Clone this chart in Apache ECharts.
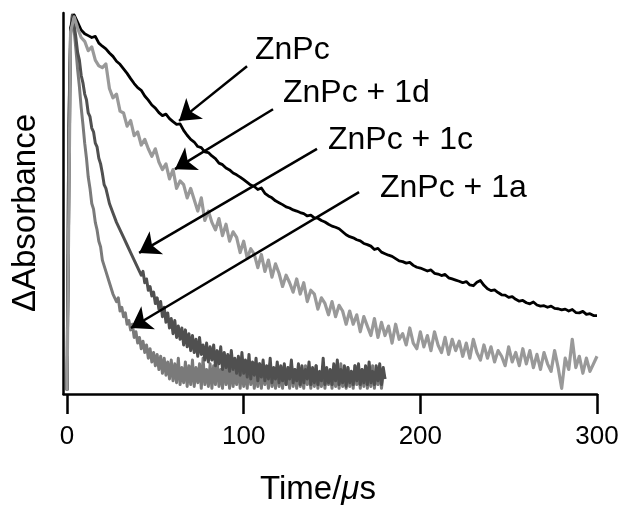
<!DOCTYPE html>
<html>
<head>
<meta charset="utf-8">
<script src="https://cdn.jsdelivr.net/npm/echarts@6/dist/echarts.min.js"></script>
<style>
  html, body { margin: 0; padding: 0; background: #fff; }
  #chart { width: 625px; height: 511px; }
</style>
</head>
<body>
<div id="chart"></div>
<script>
// sampling steps of the traces, in microseconds
const slowStep = 2
const fastStep = 1

const xTicks = [0, 100, 200, 300]

// ZnPc alone (black), 0..300 us, every 2 us
const znpc = [
  0, 96, 99.5, 97.5, 95.5, 94.5, 94, 93.5, 93.8, 92,
  91.2, 90.5, 89.4, 88.5, 87.2, 86.4, 85.2, 84, 82.6, 81.3,
  80.2, 79.5, 78, 76.9, 75.6, 74.8, 73.6, 72.8, 73.2, 72,
  71.2, 70.5, 70.6, 68.9, 67.6, 66.5, 65.8, 64.6, 64.3, 63.2,
  63, 62.1, 61.4, 60.2, 59.8, 58.9, 58.4, 57.6, 57.1, 56.5,
  55.8, 55.1, 54.4, 54, 53.2, 53.6, 52.2, 51.5, 51, 50.2,
  49.7, 49.2, 48.6, 48.3, 47.8, 47.5, 47.1, 46.8, 46.2, 46.4,
  45.7, 45.6, 45, 44.6, 44, 43.5, 43.2, 42.8, 42, 41.2,
  40.7, 40.4, 39.9, 39.6, 38.9, 38.6, 38.2, 37.3, 37.6, 36.6,
  36.2, 35.8, 35.5, 34.9, 34.3, 34.1, 33.7, 33.9, 33.1, 32.6,
  32.4, 32, 31.6, 31.9, 31, 30.8, 30.4, 30.7, 29.8, 29.5,
  29.2, 28.9, 28.5, 28.8, 27.9, 27.7, 28.6, 29.1, 27.8, 26.9,
  26.4, 26.6, 25.9, 25.3, 25.2, 24.6, 24.8, 24.1, 23.6, 23.8,
  23.2, 22.9, 23.4, 22.6, 22.3, 22.4, 22, 22.3, 21.7, 21.6,
  21.3, 21.5, 21, 21.4, 20.6, 20.5, 20.9, 20.1, 20.3, 19.8,
  19.8
]

// ZnPc + 1d (light grey), 0..300 us, every 2 us
const znpc1d = [
  0, 95, 99, 96, 93.5, 92.5, 90, 91, 87.5, 86,
  85.5, 86.5, 80, 77.5, 78.5, 74, 73.5, 70, 71.5, 67.5,
  68.5, 65, 66.5, 64, 62, 64, 60.5, 58.5, 60, 56,
  58.5, 53.5, 55.5, 54.5, 51, 53.5, 50.5, 47.5, 51, 45,
  47.5, 44.5, 42.5, 45.5, 41, 44, 39.5, 42, 40.5, 36.5,
  39.5, 35, 37.5, 36, 32.5, 36, 31.5, 34.5, 30, 33.5,
  31, 27.5, 30.5, 28.5, 26, 29.5, 25.5, 28.5, 23.5, 26.5,
  25.5, 21.5, 24.5, 23, 20, 23.5, 19.5, 22.5, 21, 17.5,
  21, 17.5, 20, 15.5, 19.5, 17, 14.5, 19, 14, 18,
  14.5, 17, 12.5, 17.5, 13.5, 15, 12, 16.5, 12.5, 11,
  15.5, 11.5, 14.5, 10.5, 15.5, 12, 10, 14, 9.5, 13.5,
  10.5, 13, 9, 12.5, 8.5, 13.5, 10, 8, 12, 8.5,
  11.5, 7.5, 10.5, 9, 6.5, 11.5, 7.5, 10, 6.5, 11,
  7, 10.5, 6, 9.5, 5.5, 10, 7, 5, 10.5, 6,
  0.5, 8.5, 5.5, 13.5, 6, 9, 4.5, 8.5, 5, 7,
  9
]

// ZnPc + 1c (dark grey), 0..180 us, every 1 us
const znpc1c = [
  0, 70, 95, 99.5, 97, 93.5, 89.5, 87.5, 83.5, 81.5,
  78.5, 77, 73.5, 72.5, 69.5, 68.5, 65.5, 64.5, 61.5, 60,
  57.5, 54.5, 53.5, 51.5, 49.5, 49, 47, 46.5, 44.5, 44,
  42.5, 42.5, 40.5, 40.5, 38.5, 38, 36.5, 37, 34.5, 35,
  32.5, 33, 30.5, 31.5, 28.5, 29.5, 26.5, 27.5, 25, 26,
  23, 24.5, 21.5, 23.5, 19.5, 22, 18, 20.5, 16.5, 19,
  15, 18.5, 14, 17, 13.5, 16.5, 12, 16, 11.5, 15,
  10.5, 14.5, 10, 13.5, 9, 14, 9.5, 12, 8, 12.5,
  7.5, 11.5, 8, 12, 6.5, 10.5, 7, 11.5, 5.5, 10,
  6, 9.5, 5, 10.5, 5.5, 8.5, 4.5, 9, 4, 10,
  4.5, 8, 3.5, 9.5, 3, 7.5, 4, 8.5, 2.5, 7,
  3.5, 8, 2.5, 6.5, 3, 8.5, 2, 6, 3, 7.5,
  2, 6.5, 2.5, 7, 1.5, 6, 3, 8, 2, 5.5,
  2.5, 7, 1.5, 6.5, 2, 5.5, 3, 7.5, 1.5, 6,
  2, 6.5, 1.5, 5, 2.5, 8.5, 1.5, 6, 2, 5.5,
  1.5, 7, 2.5, 8, 1.5, 5.5, 2, 6.5, 1, 6,
  2, 5, 1.5, 6.5, 2.5, 7, 1.5, 5.5, 2, 6.5,
  1.5, 7.5, 2, 5, 1.5, 6.5, 2.5, 7, 1.5, 6,
  3
]

// ZnPc + 1a (mid grey), 0..180 us, every 1 us
const znpc1a = [
  0, 68, 94, 99, 95.5, 90.5, 85, 80.5, 75, 70.5,
  65.5, 61.5, 56.5, 53.5, 49.5, 48, 44.5, 42.5, 39.5, 38,
  34.5, 34, 31.5, 31, 28.5, 28.5, 25.5, 26, 23.5, 24.5,
  21, 22, 19.5, 20.5, 17.5, 18.5, 16, 17.5, 14, 15.5,
  12.5, 14, 11, 13, 10, 12, 8.5, 11, 7.5, 10,
  6.5, 9.5, 5.5, 9, 4.5, 8.5, 4, 7.5, 3, 8,
  2.5, 7, 2, 8.5, 1.5, 6, 2, 7.5, 1, 6.5,
  1.5, 8, 1, 6, 2, 7, 0.5, 8.5, 1.5, 5.5,
  1, 7, 0.5, 6.5, 1.5, 8, 1, 5.5, 0.5, 7.5,
  1.5, 6, 0.5, 7, 1, 5, 1.5, 8, 0.5, 6.5,
  1, 5.5, 0.5, 7.5, 1.5, 6, 0.5, 5, 1, 7,
  0.5, 6, 1.5, 5.5, 0.5, 7, 1, 4.5, 0.5, 6.5,
  1, 5, 0.5, 6.5, 1.5, 4.5, 0.5, 7, 1, 5.5,
  0.5, 6, 1, 4.5, 0.5, 6.5, 1.5, 5, 0.5, 5.5,
  1, 6.5, 0.5, 4.5, 1, 6, 0.5, 5.5, 1.5, 4.5,
  0.5, 6, 1, 5, 0.5, 7, 1, 4.5, 0.5, 6,
  1, 5, 0.5, 6.5, 1.5, 4.5, 0.5, 5.5, 1, 6,
  0.5, 4.5, 1, 6.5, 0.5, 5, 1.5, 5.5, 0.5, 4.5,
  3
]

// arrows: label, tail [t, dA], head [t, dA]
const arrowLabels = ['ZnPc', 'ZnPc + 1d', 'ZnPc + 1c', 'ZnPc + 1a']
const arrowFrom = [[101.9, 85.9], [116.6, 74.5], [141.5, 64.0], [165.3, 52.5]]
const arrowTo = [[63.4, 71.4], [61.1, 58.6], [40.8, 36.4], [36.2, 16.5]]

const FONT = '"Liberation Sans", Arial, Helvetica, sans-serif'

const toPairs = (values, step) => values.map((v, i) => [i * step, v])

const lineSeries = (name, values, step, color, width, extra) => Object.assign({
  name,
  type: 'line',
  data: toPairs(values, step),
  showSymbol: false,
  symbol: 'none',
  silent: true,
  lineStyle: { color, width, join: 'round' },
  animation: false
}, extra || {})

const chart = echarts.init(document.getElementById('chart'), null, { renderer: 'canvas' })

const labelText = (text, x, y) => ({
  type: 'text', x, y,
  style: { text, font: '32px ' + FONT, fill: '#000', align: 'left', verticalAlign: 'middle' }
})

const option = {
  backgroundColor: '#fff',
  animation: false,
  grid: { left: 63.5, right: 28, top: 13, bottom: 117, containLabel: false, outerBoundsMode: 'none' },
  xAxis: {
    type: 'value',
    min: -2,
    max: 300,
    axisLine: { onZero: false, lineStyle: { color: '#000', width: 2.5 } },
    axisTick: { show: true, customValues: xTicks, length: 20, lineStyle: { color: '#000', width: 2.5 } },
    axisLabel: { customValues: xTicks, color: '#000', fontSize: 26, fontFamily: FONT, margin: 30 },
    splitLine: { show: false }
  },
  yAxis: {
    type: 'value',
    min: -1,
    max: 100,
    axisLine: { show: true, onZero: false, lineStyle: { color: '#000', width: 2.5 } },
    axisTick: { show: false },
    axisLabel: { show: false },
    splitLine: { show: false }
  },
  series: [
    lineSeries('ZnPc + 1a', znpc1a, fastStep, '#7a7a7a', 3),
    lineSeries('ZnPc + 1c', znpc1c, fastStep, '#505050', 3),
    lineSeries('ZnPc', znpc, slowStep, '#000000', 2.8, {
      markLine: {
        silent: true,
        animation: false,
        symbol: ['none', 'arrow'],
        symbolSize: 20,
        label: { show: false },
        lineStyle: { color: '#000', width: 2.5, type: 'solid' },
        data: arrowFrom.map((p, i) => [{ coord: p }, { coord: arrowTo[i] }])
      }
    }),
    lineSeries('ZnPc + 1d', znpc1d, slowStep, '#999999', 3.2)
  ],
  graphic: [
    labelText(arrowLabels[0], 255, 50),
    labelText(arrowLabels[1], 283, 93),
    labelText(arrowLabels[2], 328, 140),
    labelText(arrowLabels[3], 380, 188),
    {
      type: 'text', x: 318, y: 490,
      style: {
        text: '{n|Time/}{i|μ}{n|s}',
        align: 'center', verticalAlign: 'middle',
        rich: {
          n: { font: '33px ' + FONT, fill: '#000' },
          i: { font: 'italic 33px ' + FONT, fill: '#000' }
        }
      }
    },
    {
      type: 'text', x: 26, y: 213, rotation: Math.PI / 2,
      style: { text: 'ΔAbsorbance', font: '33px ' + FONT, fill: '#000', align: 'center', verticalAlign: 'middle' }
    }
  ]
}

chart.setOption(option)
</script>
</body>
</html>
